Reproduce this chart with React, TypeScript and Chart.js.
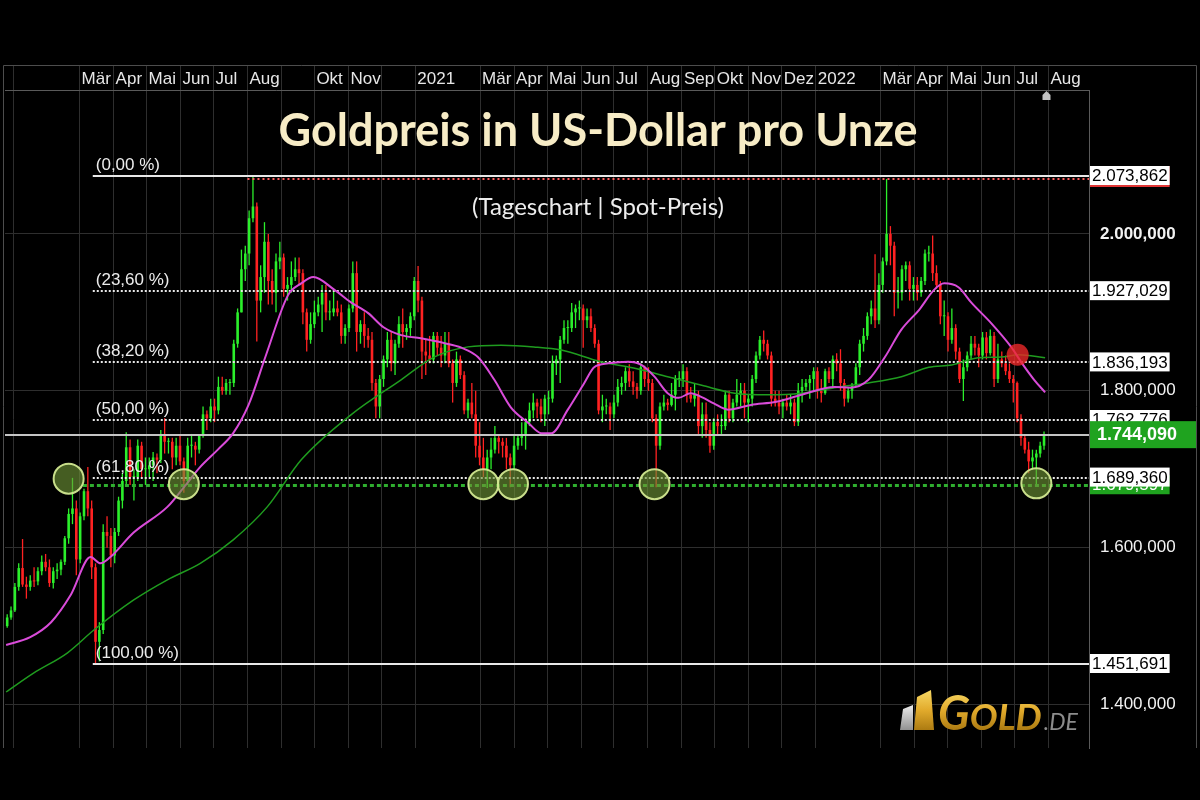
import React, { useEffect, useRef } from 'react';
import { Chart, registerables } from 'chart.js';

Chart.register(...registerables);

// ---------------- data ----------------
// x values are days relative to 1 March 2020
const candleStartDay = -66; // 26 Dec 2019, one candle per half week
const candleStepDays = 3.5;

const opens = [
  1500,1511,1520,1550,1574,1553,1550,1558,1557,1570,
  1582,1575,1555,1570,1572,1582,1612,1643,1650,1585,
  1640,1672,1650,1575,1480,1495,1620,1615,1590,1620,
  1660,1685,1728,1690,1690,1730,1700,1700,1705,1715,
  1712,1745,1735,1735,1715,1730,1710,1685,1730,1730,
  1725,1743,1770,1765,1780,1775,1805,1800,1810,1810,
  1860,1900,1955,1975,2020,2035,1915,1945,1990,1940,
  1925,1965,1970,1930,1935,1945,1955,1950,1900,1865,
  1885,1900,1910,1925,1900,1900,1905,1900,1870,1880,
  1905,1950,1875,1885,1870,1865,1810,1780,1815,1840,
  1865,1835,1860,1885,1875,1880,1895,1940,1915,1850,
  1845,1840,1870,1855,1845,1860,1835,1810,1840,1820,
  1775,1785,1770,1730,1715,1700,1715,1725,1740,1735,
  1730,1715,1705,1730,1740,1745,1760,1775,1785,1780,
  1770,1790,1790,1835,1840,1865,1880,1880,1900,1905,
  1905,1890,1895,1880,1860,1775,1780,1780,1770,1785,
  1805,1810,1825,1812,1805,1800,1830,1815,1810,1765,
  1730,1780,1785,1782,1795,1815,1815,1825,1795,1790,
  1795,1755,1770,1750,1730,1760,1755,1755,1795,1765,
  1785,1795,1800,1785,1790,1815,1845,1865,1860,1845,
  1790,1785,1780,1785,1780,1785,1760,1800,1805,1810,
  1815,1825,1800,1797,1825,1815,1840,1835,1810,1790,
  1800,1808,1830,1860,1870,1895,1905,1890,1935,1965,
  2000,1985,1925,1925,1955,1960,1930,1935,1925,1940,
  1975,1975,1950,1935,1895,1895,1865,1880,1850,1815,
  1830,1845,1860,1855,1845,1868,1848,1870,1815,1840,
  1835,1825,1815,1810,1765,1740,1725,1710,1715,1720,
  1730,
];
const highs = [
  1515,1525,1555,1580,1611,1563,1565,1575,1575,1590,
  1592,1585,1575,1580,1585,1615,1650,1689,1660,1645,
  1675,1703,1660,1580,1505,1630,1640,1625,1625,1665,
  1695,1747,1738,1700,1738,1735,1715,1715,1722,1720,
  1750,1765,1740,1740,1740,1745,1715,1740,1745,1735,
  1745,1780,1775,1790,1790,1818,1818,1815,1815,1865,
  1905,1980,1985,2030,2074,2040,1960,2015,2000,1955,
  1975,1990,1975,1945,1965,1970,1970,1955,1905,1900,
  1915,1920,1935,1935,1915,1930,1915,1910,1885,1910,
  1965,1965,1890,1900,1880,1875,1815,1820,1845,1875,
  1875,1865,1895,1905,1885,1900,1945,1959,1920,1865,
  1870,1875,1875,1870,1875,1875,1840,1850,1845,1825,
  1790,1810,1800,1760,1740,1725,1740,1755,1745,1740,
  1740,1720,1745,1745,1760,1765,1785,1797,1790,1790,
  1795,1800,1845,1845,1870,1890,1890,1912,1910,1915,
  1910,1905,1905,1885,1865,1795,1790,1785,1795,1815,
  1818,1830,1834,1825,1810,1835,1832,1830,1815,1770,
  1785,1795,1790,1810,1820,1825,1834,1830,1805,1810,
  1800,1785,1785,1760,1765,1770,1770,1800,1800,1790,
  1815,1810,1810,1795,1820,1850,1870,1877,1865,1850,
  1800,1800,1790,1795,1795,1790,1810,1815,1815,1820,
  1830,1830,1815,1828,1830,1845,1848,1853,1815,1805,
  1810,1835,1865,1880,1900,1915,1974,1950,1970,2070,
  2010,1990,1945,1960,1965,1965,1945,1945,1945,1980,
  1985,1998,1960,1940,1915,1900,1905,1885,1855,1840,
  1850,1870,1870,1860,1875,1875,1878,1875,1860,1850,
  1845,1835,1820,1812,1770,1745,1735,1725,1725,1735,
  1748,
];
const lows = [
  1498,1508,1518,1545,1550,1535,1545,1550,1552,1565,
  1570,1550,1548,1560,1565,1578,1605,1630,1565,1580,
  1635,1640,1560,1451,1455,1490,1600,1575,1580,1615,
  1650,1680,1680,1660,1685,1690,1680,1690,1685,1695,
  1708,1720,1720,1700,1705,1705,1670,1680,1715,1705,
  1720,1740,1750,1760,1760,1770,1795,1795,1795,1805,
  1855,1900,1940,1960,2015,1863,1900,1925,1910,1910,
  1900,1955,1920,1915,1925,1940,1935,1885,1850,1860,
  1880,1895,1875,1890,1890,1895,1895,1860,1860,1875,
  1900,1850,1860,1855,1855,1800,1765,1765,1805,1830,
  1825,1820,1855,1855,1865,1870,1890,1900,1815,1820,
  1835,1835,1845,1830,1835,1830,1785,1805,1815,1770,
  1765,1765,1715,1705,1690,1676,1700,1720,1720,1715,
  1700,1677,1700,1725,1730,1725,1755,1765,1765,1760,
  1755,1770,1785,1820,1810,1860,1860,1875,1880,1890,
  1855,1880,1875,1855,1770,1760,1770,1750,1765,1780,
  1795,1800,1805,1795,1790,1795,1805,1800,1760,1677,
  1725,1775,1775,1780,1775,1805,1805,1785,1785,1780,
  1745,1740,1740,1721,1725,1745,1745,1750,1760,1760,
  1780,1780,1765,1760,1780,1810,1840,1850,1840,1780,
  1780,1770,1765,1775,1770,1755,1755,1785,1800,1790,
  1800,1790,1785,1795,1810,1805,1825,1800,1780,1785,
  1790,1805,1820,1850,1865,1885,1880,1885,1925,1960,
  1960,1895,1905,1915,1940,1915,1915,1915,1920,1935,
  1965,1940,1930,1885,1870,1850,1860,1840,1810,1787,
  1825,1840,1845,1830,1840,1840,1845,1805,1810,1830,
  1820,1810,1785,1760,1730,1720,1695,1700,1680,1715,
  1725,
];
const closes = [
  1511,1520,1550,1574,1553,1550,1558,1557,1570,1582,
  1575,1555,1570,1572,1582,1612,1643,1650,1585,1640,
  1672,1650,1575,1480,1495,1620,1615,1590,1620,1660,
  1685,1728,1690,1690,1730,1700,1700,1705,1715,1712,
  1745,1735,1735,1715,1730,1710,1685,1730,1730,1725,
  1743,1770,1765,1780,1775,1805,1800,1810,1810,1860,
  1900,1955,1975,2020,2035,1915,1945,1990,1940,1925,
  1965,1970,1930,1935,1945,1955,1950,1900,1865,1885,
  1900,1910,1925,1900,1900,1905,1900,1870,1880,1905,
  1950,1875,1885,1870,1865,1810,1780,1815,1840,1865,
  1835,1860,1885,1875,1880,1895,1940,1915,1850,1845,
  1840,1870,1855,1845,1860,1835,1810,1840,1820,1775,
  1785,1770,1730,1715,1700,1715,1725,1740,1735,1730,
  1715,1705,1730,1740,1745,1760,1775,1785,1780,1770,
  1790,1790,1835,1840,1865,1880,1880,1900,1905,1905,
  1890,1895,1880,1860,1775,1780,1780,1770,1785,1805,
  1810,1825,1812,1805,1800,1830,1815,1810,1765,1730,
  1780,1785,1782,1795,1815,1815,1825,1795,1790,1795,
  1755,1770,1750,1730,1760,1755,1755,1795,1765,1785,
  1795,1800,1785,1790,1815,1845,1865,1860,1845,1790,
  1785,1780,1785,1780,1785,1760,1800,1805,1810,1815,
  1825,1800,1797,1825,1815,1840,1835,1810,1790,1800,
  1808,1830,1860,1870,1895,1905,1890,1935,1965,2000,
  1985,1925,1925,1955,1960,1930,1935,1925,1940,1975,
  1975,1950,1935,1895,1895,1865,1880,1850,1815,1830,
  1845,1860,1855,1845,1868,1848,1870,1815,1840,1835,
  1825,1815,1810,1765,1740,1725,1710,1715,1720,1730,
  1744,
];

// 50-day moving average (magenta)
const ma50Days = [-67,-45,-26,-8,10,19,28,49,80,95,110,126,140,154,170,190,202,213,232,247,263,277,293,311,332,348,363,378,393,409,421,430,445,460,469,482,500,512,524,536,546,557,567,578,591,612,635,658,688,703,719,734,749,765,779,788,801,813,831,849,859,870,880];
const ma50Values = [1476,1486,1505,1540,1588,1580,1588,1619,1652,1677,1703,1725,1746,1782,1846,1922,1937,1945,1929,1913,1899,1881,1871,1867,1861,1855,1843,1814,1779,1759,1746,1746,1776,1810,1830,1835,1837,1833,1818,1797,1791,1797,1792,1784,1776,1782,1786,1795,1805,1804,1814,1843,1878,1903,1929,1937,1932,1912,1886,1856,1835,1814,1798];

// 200-day moving average (green)
const ma200Days = [-67,-42,-11,13,49,80,110,140,171,202,247,293,323,354,384,414,439,475,505,536,567,597,628,658,688,719,749,774,795,819,840,856,880];
const ma200Values = [1416,1440,1466,1495,1533,1559,1580,1610,1652,1712,1769,1814,1843,1856,1858,1856,1852,1837,1829,1818,1807,1797,1795,1797,1804,1810,1818,1830,1833,1842,1843,1846,1842];

// axis ticks
const monthTickDays = [-60,0,31,61,92,122,153,184,214,245,275,306,365,396,426,457,487,518,549,579,610,640,671,730,761,791,822,852,883];
const monthTickLabels = ['','Mär','Apr','Mai','Jun','Jul','Aug','','Okt','Nov','','2021','Mär','Apr','Mai','Jun','Jul','Aug','Sep','Okt','Nov','Dez','2022','Mär','Apr','Mai','Jun','Jul','Aug'];
const priceTickValues = [1400, 1600, 1800, 2000];

// Fibonacci retracement
const fibLevels = [2073.862, 1927.029, 1836.193, 1762.776, 1689.36, 1451.691];
const fibLabels = ['(0,00 %)', '(23,60 %)', '(38,20 %)', '(50,00 %)', '(61,80 %)', '(100,00 %)'];
const fibStartDay = 12;
const highLineStartDay = 153;
const lastPrice = 1744.09;
const supportLevel = 1679.597;
const supportStartDay = 3;

// marked touches
const supportTouchDays = [-10, 95, 368, 395, 524, 872];
const supportTouchValues = [1688, 1681, 1681, 1681, 1681, 1682];
const breakDays = [855];
const breakValues = [1846];

const titleText = 'Goldpreis in US-Dollar pro Unze';
const subtitleText = '(Tageschart | Spot-Preis)';

// ---------------- helpers ----------------
const UP = '#2bef2b';
const DOWN = '#ff2222';
const GRID = '#2e2e2e';
const AXIS_FONT = '"Liberation Sans", Arial, sans-serif';

function fmtDe(v: number): string {
  const [i, d] = v.toFixed(3).split('.');
  return i.replace(/\B(?=(\d{3})+(?!\d))/g, '.') + ',' + d;
}

const levelsPlugin = {
  id: 'levels',
  afterDatasetDraw(chart: any, args: any) {
    if (args.index !== 1) return;
    const { ctx, chartArea: a, scales } = chart;
    const x = scales.x;
    const y = scales.y;
    ctx.save();
    ctx.beginPath();
    ctx.rect(a.left, a.top, a.right - a.left, a.bottom - a.top);
    ctx.clip();

    const line = (v: number, x0: number, color: string, width: number, dash: number[], dy = 0) => {
      const py = Math.round(y.getPixelForValue(v)) + dy + (width % 2 === 1 ? 0.5 : 0);
      ctx.strokeStyle = color;
      ctx.lineWidth = width;
      ctx.setLineDash(dash);
      ctx.beginPath();
      ctx.moveTo(x0, py);
      ctx.lineTo(a.right, py);
      ctx.stroke();
      return py;
    };

    // current price
    line(lastPrice, a.left, '#c4c4c4', 2, []);
    // support line
    line(supportLevel, x.getPixelForValue(supportStartDay), '#2fae2f', 3, [4, 3]);
    // high marker (red dotted)
    line(fibLevels[0], x.getPixelForValue(highLineStartDay), '#ff5c5c', 2, [2, 3], 3);

    const fx = x.getPixelForValue(fibStartDay);
    ctx.font = '17px ' + AXIS_FONT;
    ctx.textAlign = 'left';
    ctx.textBaseline = 'alphabetic';
    fibLevels.forEach((v, i) => {
      const solid = i === 0 || i === fibLevels.length - 1;
      const py = line(v, fx, '#e8e8e8', 2, solid ? [] : [2, 2]);
      ctx.setLineDash([]);
      ctx.fillStyle = '#ececec';
      ctx.fillText(fibLabels[i], fx + 3, py - 6);
    });
    ctx.restore();
  },
};

const overlayPlugin = {
  id: 'overlay',
  afterDraw(chart: any) {
    const { ctx, chartArea: a, scales } = chart;
    const x = scales.x;
    const y = scales.y;
    ctx.save();
    ctx.setLineDash([]);

    // frame
    ctx.strokeStyle = '#4d4d4d';
    ctx.lineWidth = 1;
    ctx.beginPath();
    ctx.moveTo(3.5, a.bottom);
    ctx.lineTo(3.5, 65.5);
    ctx.lineTo(1196.5, 65.5);
    ctx.lineTo(1196.5, a.bottom);
    ctx.stroke();

    // value boxes on the right axis
    const bx = a.right + 1;
    ctx.textAlign = 'left';
    ctx.textBaseline = 'middle';
    const smallBox = (v: number, bg: string, fg: string, underline?: string) => {
      ctx.font = '17px ' + AXIS_FONT;
      const py = y.getPixelForValue(v);
      const t = fmtDe(v);
      const w = ctx.measureText(t).width + 4;
      if (underline) {
        ctx.fillStyle = underline;
        ctx.fillRect(bx, py - 10, w, 21);
      }
      ctx.fillStyle = bg;
      ctx.fillRect(bx, py - 10, w, 19);
      ctx.fillStyle = fg;
      ctx.fillText(t, bx + 2, py + 0.5);
    };
    smallBox(fibLevels[0], '#ffffff', '#000000', '#e03535');
    smallBox(fibLevels[1], '#ffffff', '#000000');
    smallBox(fibLevels[2], '#ffffff', '#000000');
    smallBox(fibLevels[3], '#ffffff', '#000000');
    {
      const py = y.getPixelForValue(lastPrice);
      ctx.fillStyle = '#1fa31f';
      ctx.fillRect(bx, py - 13.5, 1196 - bx, 27);
      ctx.font = 'bold 18px ' + AXIS_FONT;
      ctx.fillStyle = '#ffffff';
      ctx.fillText(fmtDe(lastPrice), bx + 7, py + 0.5);
    }
    smallBox(supportLevel, '#1fa31f', '#ffffff');
    smallBox(fibLevels[4], '#ffffff', '#000000');
    smallBox(fibLevels[5], '#ffffff', '#000000');

    // last day marker
    const mx = Math.round(x.getPixelForValue(candleStartDay + (opens.length - 1) * candleStepDays)) + 2.5;
    ctx.fillStyle = '#c2c2c2';
    ctx.beginPath();
    ctx.moveTo(mx - 4, 100);
    ctx.lineTo(mx - 4, 95);
    ctx.lineTo(mx, 91);
    ctx.lineTo(mx + 4, 95);
    ctx.lineTo(mx + 4, 100);
    ctx.closePath();
    ctx.fill();

    // title & subtitle
    ctx.textAlign = 'center';
    ctx.textBaseline = 'alphabetic';
    ctx.font = 'bold 45px Lato, "Open Sans", sans-serif';
    ctx.fillStyle = '#f7ecc6';
    ctx.fillText(titleText, 598, 146);
    ctx.font = '24px Lato, "Open Sans", sans-serif';
    ctx.fillStyle = '#ededed';
    ctx.fillText(subtitleText, 598, 215);

    // logo
    const gold = ctx.createLinearGradient(0, 688, 0, 732);
    gold.addColorStop(0, '#f9dc6a');
    gold.addColorStop(0.5, '#e2ab2c');
    gold.addColorStop(1, '#a7760f');
    const silver = ctx.createLinearGradient(0, 704, 0, 732);
    silver.addColorStop(0, '#f0f0f0');
    silver.addColorStop(1, '#8a8a8a');
    ctx.fillStyle = silver;
    ctx.beginPath();
    ctx.moveTo(900, 730); ctx.lineTo(903, 709); ctx.lineTo(913, 705); ctx.lineTo(913, 730);
    ctx.closePath(); ctx.fill();
    ctx.fillStyle = gold;
    ctx.beginPath();
    ctx.moveTo(914, 730); ctx.lineTo(917, 697); ctx.lineTo(931, 690); ctx.lineTo(934, 730);
    ctx.closePath(); ctx.fill();
    ctx.textAlign = 'left';
    ctx.font = 'italic bold 47px Lato, sans-serif';
    ctx.fillText('G', 938, 730);
    const gw = ctx.measureText('G').width;
    ctx.font = 'italic bold 37px Lato, sans-serif';
    ctx.fillText('OLD', 938 + gw, 730);
    const ow = ctx.measureText('OLD').width;
    ctx.font = 'italic 23px Lato, sans-serif';
    ctx.fillStyle = '#8c8c8c';
    ctx.fillText('.DE', 940 + gw + ow, 730);

    ctx.restore();
  },
};

export default function App() {
  const ref = useRef<HTMLCanvasElement>(null);

  useEffect(() => {
    const canvas = ref.current;
    if (!canvas) return;
    const candleDays = opens.map((_, i) => candleStartDay + i * candleStepDays);
    const colors = opens.map((o, i) => (closes[i] >= o ? UP : DOWN));

    const chart = new Chart(canvas, {
      type: 'bar',
      data: {
        datasets: [
          {
            type: 'bar',
            label: 'Hoch/Tief',
            data: candleDays.map((d, i) => ({ x: d, y: [lows[i], highs[i]] })),
            backgroundColor: colors,
            borderWidth: 0,
            barThickness: 1.3,
            grouped: false,
            inflateAmount: 0,
            order: 10,
          } as any,
          {
            type: 'bar',
            label: 'Eröffnung/Schluss',
            data: candleDays.map((d, i) => ({ x: d, y: [opens[i], closes[i]] })),
            backgroundColor: colors,
            borderWidth: 0,
            barThickness: 2.6,
            grouped: false,
            minBarLength: 1,
            inflateAmount: 0,
            order: 9,
          } as any,
          {
            type: 'line',
            label: 'GD 200',
            data: ma200Days.map((d, i) => ({ x: d, y: ma200Values[i] })),
            borderColor: '#1f9c1f',
            borderWidth: 1.5,
            pointRadius: 0,
            cubicInterpolationMode: 'monotone',
            order: 4,
          } as any,
          {
            type: 'line',
            label: 'GD 50',
            data: ma50Days.map((d, i) => ({ x: d, y: ma50Values[i] })),
            borderColor: '#d94bd9',
            borderWidth: 2,
            pointRadius: 0,
            cubicInterpolationMode: 'monotone',
            order: 3,
          } as any,
          {
            type: 'scatter',
            label: 'Unterstützung',
            data: supportTouchDays.map((d, i) => ({ x: d, y: supportTouchValues[i] })),
            pointRadius: 15,
            backgroundColor: 'rgba(112,150,55,0.62)',
            borderColor: 'rgba(210,232,145,0.95)',
            borderWidth: 2,
            order: 1,
          } as any,
          {
            type: 'scatter',
            label: 'Bruch',
            data: breakDays.map((d, i) => ({ x: d, y: breakValues[i] })),
            pointRadius: 11,
            backgroundColor: 'rgba(235,40,40,0.8)',
            borderWidth: 0,
            order: 0,
          } as any,
        ],
      },
      options: {
        responsive: false,
        animation: false,
        devicePixelRatio: 1,
        events: [],
        layout: { autoPadding: false, padding: { left: 5, right: 2, top: 65, bottom: 52 } },
        plugins: {
          legend: { display: false },
          tooltip: { enabled: false },
          title: { display: false },
        },
        scales: {
          x: {
            type: 'linear',
            position: 'top',
            min: -68,
            max: 920,
            offset: false,
            grid: { color: GRID, lineWidth: 1, offset: false, drawTicks: true, tickLength: 25, tickColor: GRID },
            border: { display: true, color: '#5a5a5a', width: 1 },
            ticks: {
              autoSkip: false,
              maxRotation: 0,
              minRotation: 0,
              align: 'start',
              labelOffset: 2,
              padding: -25,
              color: '#e6e6e6',
              font: { family: AXIS_FONT, size: 17 },
              callback: (_v: any, i: number) => monthTickLabels[i] ?? '',
            },
            afterBuildTicks: (s: any) => {
              s.ticks = monthTickDays.map((v) => ({ value: v }));
            },
            afterFit: (s: any) => {
              s.height = 25;
              s.paddingLeft = 0;
              s.paddingRight = 0;
            },
          } as any,
          y: {
            type: 'linear',
            position: 'right',
            min: 1344.6,
            max: 2183.5,
            grid: { color: GRID, lineWidth: 1, drawTicks: false },
            border: { display: true, color: '#5a5a5a', width: 1 },
            ticks: {
              padding: 11,
              color: '#f2f2f2',
              font: (c: any) => ({
                family: AXIS_FONT,
                size: 17,
                weight: c.tick && c.tick.value === 2000 ? 'bold' : 'normal',
              }),
              callback: (v: any) => fmtDe(Number(v)),
            },
            afterBuildTicks: (s: any) => {
              s.ticks = priceTickValues.map((v) => ({ value: v }));
            },
            afterFit: (s: any) => {
              s.width = 109;
              s.paddingTop = 0;
              s.paddingBottom = 0;
            },
          } as any,
        },
      } as any,
      plugins: [levelsPlugin, overlayPlugin],
    });
    return () => chart.destroy();
  }, []);

  return (
    <div style={{ position: 'fixed', left: 0, top: 0, width: 1200, height: 800, background: '#000' }}>
      <canvas ref={ref} width={1200} height={800} style={{ width: 1200, height: 800, display: 'block' }} />
    </div>
  );
}
